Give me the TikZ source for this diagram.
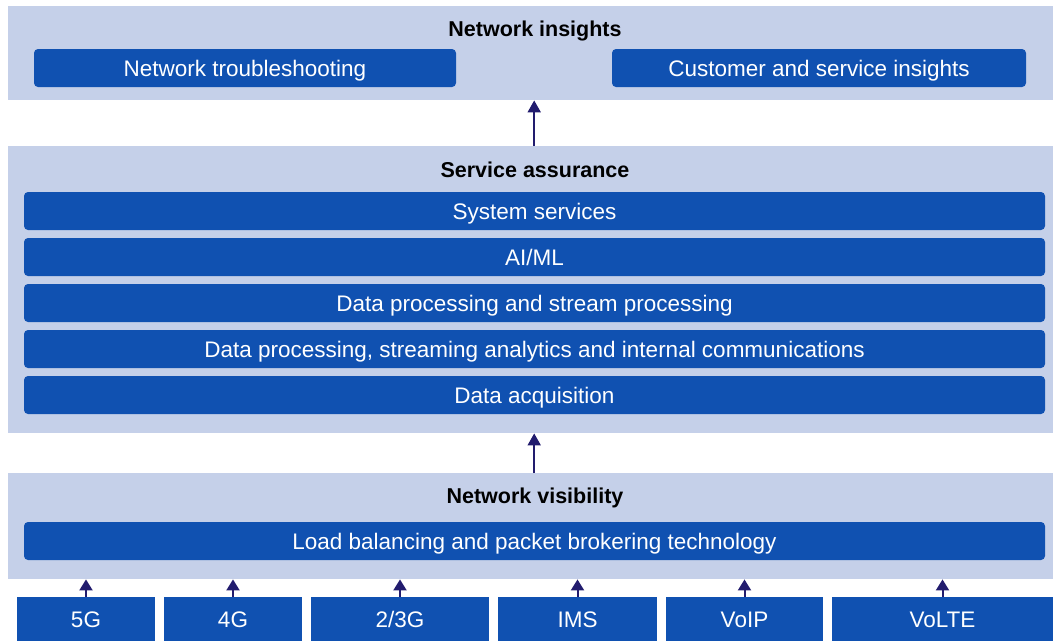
\documentclass[tikz,border=0pt]{standalone}
\usepackage{fontspec}
\setmainfont{Liberation Sans}
\usepackage{tikz}
\usetikzlibrary{arrows.meta}
\definecolor{panelblue}{HTML}{C5D0E9}
\definecolor{barblue}{HTML}{1051B1}
\definecolor{arrownavy}{HTML}{221C6E}

\begin{document}
\begin{tikzpicture}[x=1pt, y=-1pt,
			panel/.style={fill=panelblue, inner sep=0pt, minimum width=1045pt, anchor=north west},
			heading/.style={font=\fontsize{21.5}{24}\selectfont\bfseries, text=black, text height=15.4pt, text depth=0pt},
			mybar/.style={fill=barblue, rounded corners=4pt, inner sep=0pt, minimum height=38pt, text=white, font=\fontsize{22.5}{26}\selectfont, text height=16.1pt, text depth=0pt},
			srcbox/.style={fill=barblue, inner sep=0pt, minimum height=44pt, text=white, font=\fontsize{22.5}{26}\selectfont, text height=16.1pt, text depth=0pt},
			bigarrow/.style={draw=arrownavy, line width=2pt, -{Triangle[length=12pt, width=13pt]}},
			smallarrow/.style={draw=arrownavy, line width=2pt, -{Triangle[length=11pt, width=13pt]}}
		]

		\useasboundingbox (0,0) rectangle (1053,641);

		% top layer
		\node[panel, minimum height=94pt] (ni) at (8,6) {};
		\node[heading] (nihead) at (535,29) {Network insights};
		\node[mybar, minimum width=422pt] (trouble) at (245,68) {Network troubleshooting};
		\node[mybar, minimum width=414pt] (custins) at (819,68) {Customer and service insights};

		% middle layer
		\node[panel, minimum height=287pt] (sa) at (8,146) {};
		\node[heading] (sahead) at (535,170) {Service assurance};
		\node[mybar, minimum width=1021pt] (syssrv) at (534.5,211) {System services};
		\node[mybar, minimum width=1021pt] (aiml) at (534.5,257) {AI/ML};
		\node[mybar, minimum width=1021pt] (stream) at (534.5,303) {Data processing and stream processing};
		\node[mybar, minimum width=1021pt] (analytics) at (534.5,349) {Data processing, streaming analytics and internal communications};
		\node[mybar, minimum width=1021pt] (acq) at (534.5,395) {Data acquisition};

		% bottom layer
		\node[panel, minimum height=106pt] (nv) at (8,473) {};
		\node[heading] (nvhead) at (535,496) {Network visibility};
		\node[mybar, minimum width=1021pt] (loadbal) at (534.5,541) {Load balancing and packet brokering technology};

		% sources
		\node[srcbox, minimum width=138pt] (g5) at (86,619) {5G};
		\node[srcbox, minimum width=138pt] (g4) at (233,619) {4G};
		\node[srcbox, minimum width=178pt] (g23) at (400,619) {2/3G};
		\node[srcbox, minimum width=159pt] (ims) at (577.5,619) {IMS};
		\node[srcbox, minimum width=157pt] (voip) at (744.5,619) {VoIP};
		\node[srcbox, minimum width=221pt] (volte) at (942.5,619) {VoLTE};

		\draw[bigarrow] ([xshift=3.5pt]sa.north) -- ([xshift=3.5pt]ni.south);
		\draw[bigarrow] ([xshift=3.5pt]nv.north) -- ([xshift=3.5pt]sa.south);

		\draw[smallarrow] (g5.north) -- (g5.north |- nv.south);
		\draw[smallarrow] (g4.north) -- (g4.north |- nv.south);
		\draw[smallarrow] (g23.north) -- (g23.north |- nv.south);
		\draw[smallarrow] (ims.north) -- (ims.north |- nv.south);
		\draw[smallarrow] (voip.north) -- (voip.north |- nv.south);
		\draw[smallarrow] (volte.north) -- (volte.north |- nv.south);
	\end{tikzpicture}
\end{document}
